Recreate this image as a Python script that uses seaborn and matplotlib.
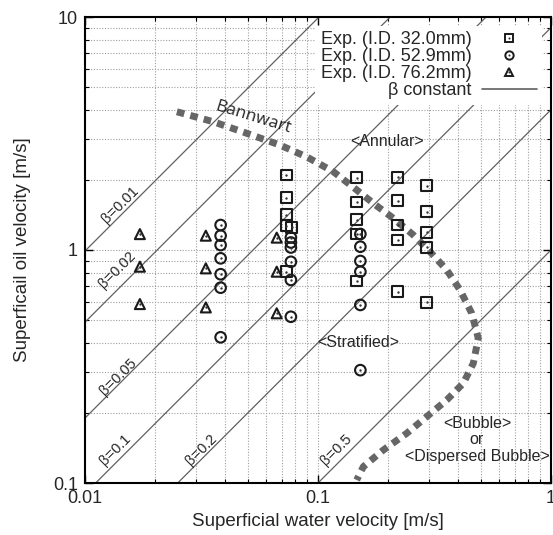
import matplotlib
matplotlib.use("Agg")
import numpy as np
import pandas as pd
import matplotlib.pyplot as plt
import seaborn as sns
from matplotlib.lines import Line2D
from matplotlib.legend_handler import HandlerTuple
from matplotlib.ticker import FuncFormatter, NullFormatter, LogLocator

# Superficial velocities [m/s] measured in each pipe
id32_water = [0.073, 0.073, 0.073, 0.073, 0.077, 0.073,
              0.1466, 0.1466, 0.1466, 0.1466, 0.1466,
              0.2195, 0.2195, 0.2195, 0.2195, 0.2195,
              0.2926, 0.2926, 0.2926, 0.2926, 0.2926]
id32_oil = [2.10, 1.68, 1.42, 1.27, 1.25, 0.807,
            2.04, 1.606, 1.35, 1.171, 0.736,
            2.05, 1.63, 1.28, 1.104, 0.662,
            1.89, 1.46, 1.19, 1.027, 0.596]

id52_water = [0.0382] * 7 + [0.0765] * 6 + [0.152] * 6
id52_oil = [1.28, 1.152, 1.05, 0.921, 0.787, 0.689, 0.422,
            1.131, 1.077, 1.025, 0.89, 0.744, 0.517,
            1.171, 1.033, 0.897, 0.807, 0.581, 0.305]

id76_water = [0.0172] * 3 + [0.0330] * 3 + [0.0665] * 3
id76_oil = [1.17, 0.848, 0.586, 1.152, 0.834, 0.567, 1.13, 0.807, 0.535]

# Bannwart transition boundary
bannwart_water = [0.0248, 0.0355, 0.0494, 0.0687, 0.0894, 0.1163, 0.1466,
                  0.1728, 0.2106, 0.2565, 0.3025, 0.3568, 0.4069, 0.4568,
                  0.4875, 0.464, 0.4204, 0.3568, 0.2927, 0.2403, 0.1907,
                  0.1565, 0.1466]
bannwart_oil = [3.92, 3.553, 3.17, 2.82, 2.51, 2.17, 1.81, 1.586, 1.368,
                1.16, 0.983, 0.821, 0.674, 0.535, 0.418, 0.3264, 0.268,
                0.227, 0.1925, 0.1634, 0.1385, 0.1175, 0.103]

# Input water fractions for the constant-beta lines
betas = [0.01, 0.02, 0.05, 0.1, 0.2, 0.5]
beta_labels = ["β=0.01", "β=0.02", "β=0.05", "β=0.1", "β=0.2", "β=0.5"]

series_names = ["Exp. (I.D. 32.0mm)", "Exp. (I.D. 52.9mm)", "Exp. (I.D. 76.2mm)"]

df = pd.DataFrame({
    "water": id32_water + id52_water + id76_water,
    "oil": id32_oil + id52_oil + id76_oil,
    "pipe": [series_names[0]] * len(id32_water)
            + [series_names[1]] * len(id52_water)
            + [series_names[2]] * len(id76_water),
})

sns.set_style("ticks")
plt.rcParams["font.family"] = ["Liberation Sans", "DejaVu Sans"]

fig = plt.figure(figsize=(5.53, 5.35), dpi=100)
ax = fig.add_axes([85 / 553, 52 / 535, 466 / 553, 466 / 535])
ax.set_xscale("log")
ax.set_yscale("log")
ax.set_xlim(0.01, 1)
ax.set_ylim(0.1, 10)

# dotted major + minor grid
ax.grid(True, which="both", linestyle=(0, (1, 1.5)), color="#a0a0a0", linewidth=0.8)
ax.set_axisbelow(True)

# constant-beta lines: U_o = U_w (1 - beta) / beta
xs = np.array([0.01, 1.0])
for b in betas:
    ax.plot(xs, xs * (1 - b) / b, color="#606060", linewidth=0.9, zorder=2)

# label positions for the beta lines (water, oil)
beta_pos = [(0.0141, 1.56), (0.0137, 0.82), (0.0139, 0.286),
            (0.01345, 0.1386), (0.0317, 0.1386), (0.1202, 0.1386)]
for (bx, by), lab in zip(beta_pos, beta_labels):
    ax.text(bx, by, lab, rotation=45, rotation_mode="anchor", ha="center",
            va="center", fontsize=10.5, zorder=3)

# Bannwart boundary
ax.plot(bannwart_water, bannwart_oil, color="#666666", linewidth=5,
        linestyle=(0, (1.1, 0.9)), dash_capstyle="butt", zorder=3)
ax.text(0.0526, 3.69, "Bannwart", rotation=-17, ha="center", va="center",
        fontsize=12.5, family="Open Sans", zorder=4)

# experimental points
marker_map = {series_names[0]: "s", series_names[1]: "o", series_names[2]: "^"}
size_map = {series_names[0]: 60, series_names[1]: 58, series_names[2]: 52}
for name in series_names:
    sub = df[df["pipe"] == name]
    sns.scatterplot(data=sub, x="water", y="oil", marker=marker_map[name],
                    s=size_map[name], facecolor="none", edgecolor="#1a1a1a",
                    linewidth=1.5, ax=ax, zorder=5, legend=False)
    sns.scatterplot(data=sub, x="water", y="oil", marker="o", s=3,
                    color="#333333", linewidth=0, ax=ax, zorder=6, legend=False)

# flow regime names
ax.text(0.1977, 2.91, "<Annular>", ha="center", va="center", fontsize=11.5, zorder=4)
ax.text(0.1485, 0.399, "<Stratified>", ha="center", va="center", fontsize=11.5, zorder=4)
ax.text(0.481, 0.153, "<Bubble>\nor\n<Dispersed Bubble>", ha="center", va="center",
        fontsize=11.5, linespacing=1.1, zorder=4)

# axes styling
fmt = FuncFormatter(lambda v, _: f"{v:g}")
ax.xaxis.set_major_locator(LogLocator(base=10))
ax.yaxis.set_major_locator(LogLocator(base=10))
ax.xaxis.set_major_formatter(fmt)
ax.yaxis.set_major_formatter(fmt)
ax.xaxis.set_minor_formatter(NullFormatter())
ax.yaxis.set_minor_formatter(NullFormatter())
ax.tick_params(which="major", direction="in", length=6, width=1.0,
               top=True, right=True, labelsize=13, pad=5, color="black")
ax.tick_params(which="minor", direction="in", length=3, width=0.8,
               top=True, right=True, color="black")
for sp in ax.spines.values():
    sp.set_linewidth(1.5)
    sp.set_color("black")

ax.set_xlabel("Superficial water velocity [m/s]", fontsize=13.5, labelpad=4)
ax.set_ylabel("Superficail oil velocity [m/s]", fontsize=13.5, labelpad=16)

# legend with markers to the right of the right-aligned labels
def mk(m):
    return (Line2D([], [], linestyle="none", marker=m, markersize=6,
                   markerfacecolor="none", markeredgecolor="#1a1a1a", markeredgewidth=1.4),
            Line2D([], [], linestyle="none", marker="o", markersize=1.5,
                   markerfacecolor="#333333", markeredgecolor="none"))

handles = [mk("s"), mk("o"), mk("^"),
           Line2D([], [], color="#606060", linewidth=1.2)]
labels = series_names + ["β constant"]
leg = ax.legend(handles, labels, loc="upper right", markerfirst=False,
                handler_map={tuple: HandlerTuple(ndivide=1, pad=0)},
                fontsize=13, handlelength=3.0, handletextpad=0.6,
                labelspacing=0.0, borderpad=0.3, borderaxespad=0.5,
                frameon=True, fancybox=False, framealpha=1,
                facecolor="white", edgecolor="none")
leg.set_zorder(7)

fig.savefig("out.png", dpi=100)
